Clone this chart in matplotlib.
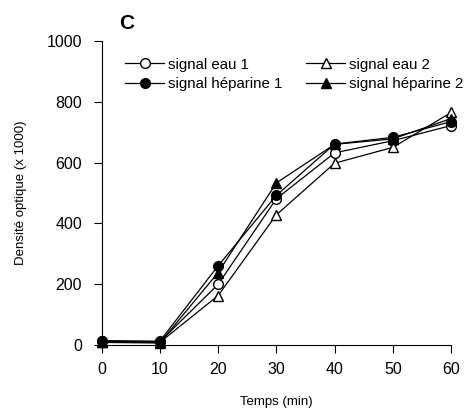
import matplotlib
matplotlib.use("Agg")
import matplotlib.pyplot as plt

plt.rcParams['font.family'] = ['Liberation Sans', 'DejaVu Sans']

# data
temps = [0, 10, 20, 30, 40, 50, 60]
eau_1 = [12, 10, 199, 481, 632, 672, 722]
eau_2 = [10, 8, 162, 428, 598, 650, 765]
hep_1 = [14, 12, 260, 492, 661, 683, 735]
hep_2 = [8, 6, 238, 533, 660, 678, 745]

fig = plt.figure(figsize=(4.70, 4.19), dpi=100)
ax = fig.add_axes([0.216, 0.177, 0.744, 0.725])

ms = 7
l1, = ax.plot(temps, eau_1, '-o', color='black', mfc='white', mec='black', ms=ms, lw=0.9, clip_on=False, label='signal eau 1', zorder=3)
l2, = ax.plot(temps, eau_2, '-^', color='black', mfc='white', mec='black', ms=ms, lw=0.9, clip_on=False, label='signal eau 2', zorder=3)
l3, = ax.plot(temps, hep_1, '-o', color='black', mfc='black', mec='black', ms=ms, lw=0.9, clip_on=False, label='signal héparine 1', zorder=4)
l4, = ax.plot(temps, hep_2, '-^', color='black', mfc='black', mec='black', ms=ms, lw=0.9, clip_on=False, label='signal héparine 2', zorder=4)

ax.set_xlim(0, 60)
ax.set_ylim(0, 1000)
ax.set_xticks(temps)
ax.set_yticks([0, 200, 400, 600, 800, 1000])
ax.spines['top'].set_visible(False)
ax.spines['right'].set_visible(False)
ax.spines['left'].set_linewidth(0.8)
ax.spines['bottom'].set_linewidth(0.8)
ax.tick_params(direction='out', length=6, width=0.8, labelsize=11.5)
ax.tick_params(axis='y', pad=8)
ax.tick_params(axis='x', pad=6)

ax.set_xlabel('Temps (min)', fontsize=9.5, labelpad=14)
ax.set_ylabel('Densité optique (x 1000)', fontsize=9.5, labelpad=14)

# row-wise order for a two-column legend
ax.legend([l1, l3, l2, l4], [l1.get_label(), l3.get_label(), l2.get_label(), l4.get_label()],
          loc='upper left', bbox_to_anchor=(0.05, 0.965), ncol=2, frameon=False,
          fontsize=10.8, handlelength=2.6, handletextpad=0.25, columnspacing=1.6,
          labelspacing=0.35, borderaxespad=0)

fig.text(0.253, 0.93, 'C', fontsize=15, fontweight='bold')

fig.savefig('out.png', dpi=100)
